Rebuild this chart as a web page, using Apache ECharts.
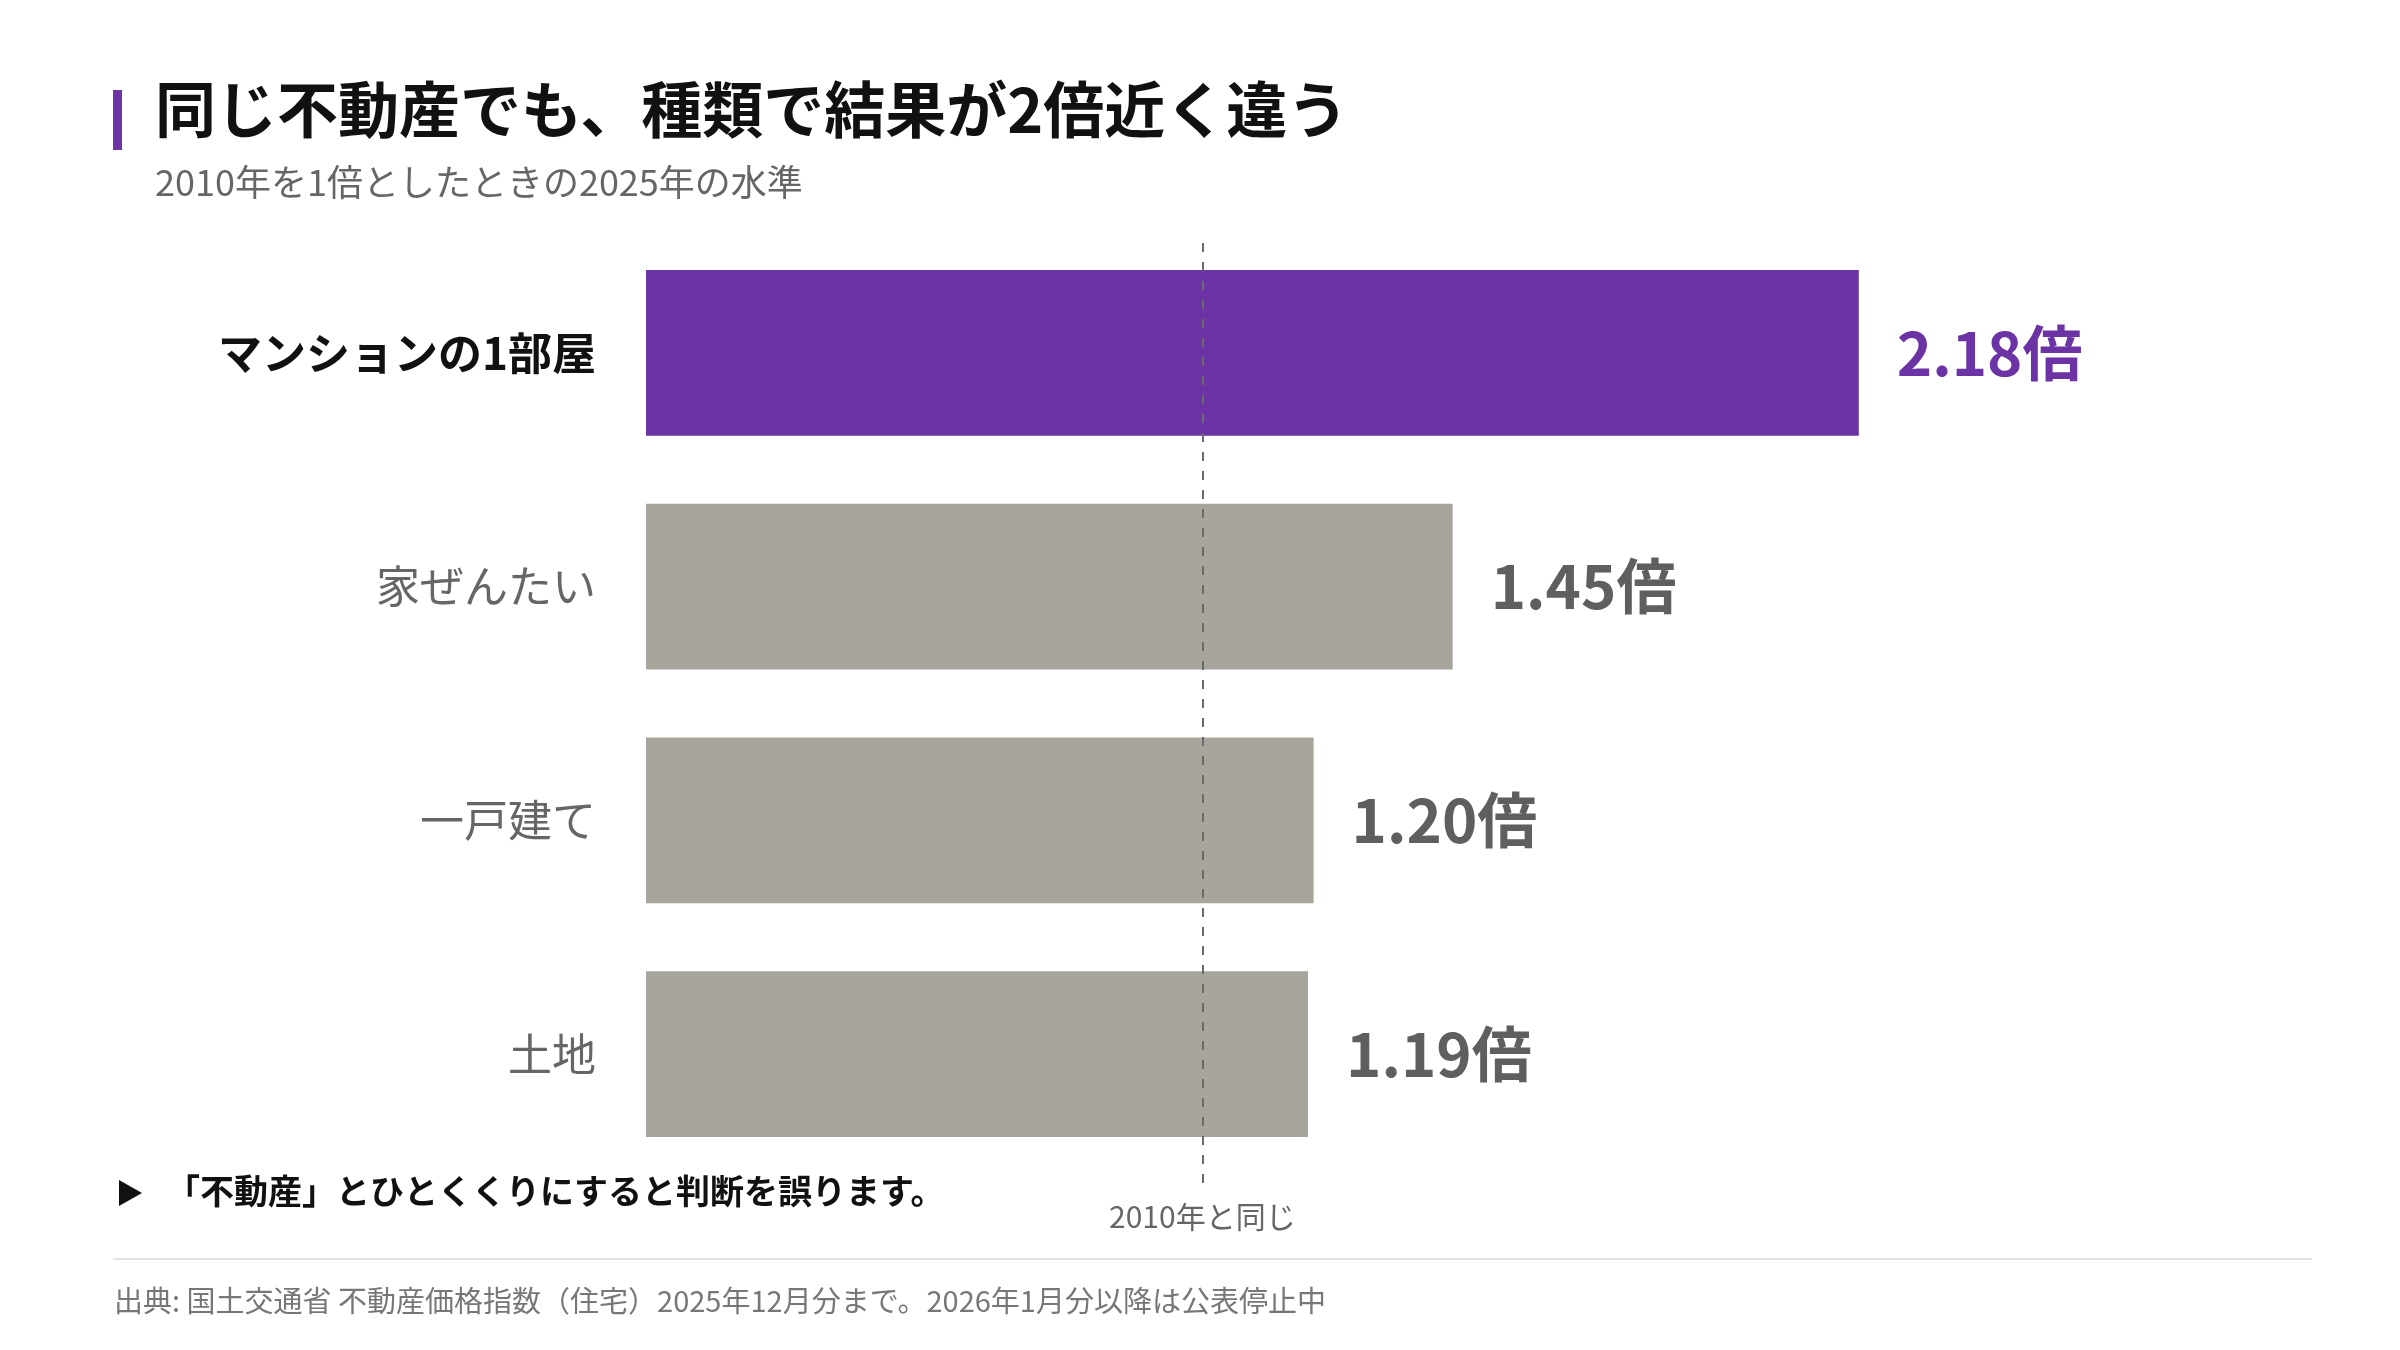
<!DOCTYPE html>
<html>
<head>
<meta charset="utf-8">
<script src="https://cdn.jsdelivr.net/npm/echarts@6/dist/echarts.min.js"></script>
<style>
  html, body { margin: 0; padding: 0; background: #fff; }
  #chart { width: 2400px; height: 1350px; }
</style>
</head>
<body>
<div id="chart"></div>
<script>
(function(){
    var FONT = '"Noto Sans CJK JP", "Noto Sans", sans-serif';

    // data
    var categories = ['マンションの1部屋', '家ぜんたい', '一戸建て', '土地'];
    var values = [2.18, 1.45, 1.20, 1.19];
    var highlightIndex = 0;
    var baseValue = 1;
    var baseLabel = '2010年と同じ';

    var PURPLE = '#6c33a5';
    var GRAY_BAR = '#a7a59c';
    var GRAY_TEXT = '#666666';

    var myChart = echarts.init(document.getElementById('chart'));

    var barData = values.map(function(v, i){
        var hi = i === highlightIndex;
        return {
            value: v,
            itemStyle: { color: hi ? PURPLE : GRAY_BAR },
            label: { color: hi ? PURPLE : '#5f5f5f' }
        };
    });

    var option = {
        backgroundColor: '#ffffff',
        textStyle: { fontFamily: FONT },
        animation: false,
        grid: [
            { left: 646, right: 85, top: 236, bottom: 179 },
            // taller grid only for the 2010 reference line
            { left: 646, right: 85, top: 240, bottom: 167 }
        ],
        xAxis: [
            { type: 'value', min: 0, max: 3, show: false, gridIndex: 0 },
            { type: 'value', min: 0, max: 3, show: false, gridIndex: 1 }
        ],
        yAxis: [
            {
                type: 'category',
                gridIndex: 0,
                data: categories,
                inverse: true,
                axisLine: { show: false },
                axisTick: { show: false },
                splitLine: { show: false },
                axisLabel: {
                    margin: 50,
                    formatter: function(v, i){
                        return i === highlightIndex ? '{hi|' + v + '}' : '{lo|' + v + '}';
                    },
                    rich: {
                        hi: { fontSize: 44, fontWeight: 'bold', color: '#111111', fontFamily: FONT },
                        lo: { fontSize: 44, color: GRAY_TEXT, fontFamily: FONT }
                    }
                }
            },
            { type: 'value', gridIndex: 1, min: 0, max: 1, show: false }
        ],
        series: [
            {
                type: 'bar',
                data: barData,
                barWidth: '71%',
                label: {
                    show: true,
                    position: 'right',
                    distance: 38,
                    fontSize: 60,
                    fontWeight: 'bold',
                    fontFamily: FONT,
                    formatter: function(p){ return p.value.toFixed(2) + '倍'; }
                }
            },
            {
                type: 'line',
                xAxisIndex: 1,
                yAxisIndex: 1,
                data: [],
                z: 10,
                markLine: {
                    silent: true,
                    symbol: 'none',
                    lineStyle: { color: '#6a6a6a', type: [9, 10], width: 2 },
                    label: {
                        show: true,
                        position: 'start',
                        distance: 19,
                        formatter: baseLabel,
                        fontSize: 30,
                        color: GRAY_TEXT,
                        fontFamily: FONT
                    },
                    data: [{ xAxis: baseValue }]
                }
            }
        ],
        graphic: [
            { type: 'rect', shape: { x: 113, y: 90, width: 9, height: 60 }, style: { fill: PURPLE } },
            {
                type: 'text', left: 155, top: 79,
                style: { text: '同じ不動産でも、種類で結果が2倍近く違う', fontSize: 61, fontWeight: 'bold', fill: '#111111', fontFamily: FONT }
            },
            {
                type: 'text', left: 155, top: 164,
                style: { text: '2010年を1倍としたときの2025年の水準', fontSize: 36, fill: GRAY_TEXT, fontFamily: FONT }
            },
            { type: 'polygon', shape: { points: [[119, 1180], [142, 1193], [119, 1206]] }, style: { fill: '#111111' } },
            {
                type: 'text', left: 166, top: 1174,
                style: { text: '「不動産」とひとくくりにすると判断を誤ります。', fontSize: 34, fontWeight: 'bold', fill: '#111111', fontFamily: FONT }
            },
            { type: 'line', shape: { x1: 113, y1: 1259, x2: 2312, y2: 1259 }, style: { stroke: '#e2e2e2', lineWidth: 2 } },
            {
                type: 'text', left: 114, top: 1286,
                style: { text: '出典: 国土交通省 不動産価格指数（住宅）2025年12月分まで。2026年1月分以降は公表停止中', fontSize: 29, fill: '#777777', fontFamily: FONT }
            }
        ]
    };

    myChart.setOption(option);
    window.addEventListener('resize', function(){ myChart.resize(); });
})();
</script>
</body>
</html>
